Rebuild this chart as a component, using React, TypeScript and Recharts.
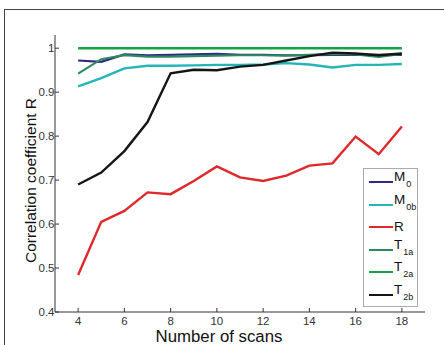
import React from "react";
import {
  LineChart,
  Line,
  XAxis,
  YAxis,
  Legend,
} from "recharts";

const scans = [4, 5, 6, 7, 8, 9, 10, 11, 12, 13, 14, 15, 16, 17, 18];
const m0 = [0.972, 0.969, 0.986, 0.984, 0.985, 0.986, 0.987, 0.985, 0.985, 0.984, 0.984, 0.985, 0.985, 0.985, 0.985];
const m0b = [0.913, 0.932, 0.954, 0.96, 0.96, 0.961, 0.962, 0.962, 0.963, 0.966, 0.963, 0.956, 0.962, 0.962, 0.964];
const rSeries = [0.484, 0.605, 0.63, 0.672, 0.668, 0.698, 0.731, 0.706, 0.698, 0.71, 0.733, 0.738, 0.799, 0.759, 0.822];
const t1a = [0.942, 0.975, 0.984, 0.981, 0.981, 0.982, 0.983, 0.984, 0.984, 0.983, 0.985, 0.987, 0.986, 0.98, 0.987];
const t2a = [1, 1, 1, 1, 1, 1, 1, 1, 1, 1, 1, 1, 1, 1, 1];
const t2b = [0.69, 0.717, 0.766, 0.832, 0.943, 0.951, 0.95, 0.958, 0.962, 0.972, 0.982, 0.99, 0.988, 0.984, 0.988];

const xTicks = [4, 6, 8, 10, 12, 14, 16, 18];
const yTicks = [0.4, 0.5, 0.6, 0.7, 0.8, 0.9, 1];

const series = [
  { key: "m0", base: "M", sub: "0", color: "#2b2b85", width: 2.2, values: m0 },
  { key: "m0b", base: "M", sub: "0b", color: "#22b6b8", width: 2.4, values: m0b },
  { key: "r", base: "R", sub: "", color: "#e0282a", width: 2.4, values: rSeries },
  { key: "t1a", base: "T", sub: "1a", color: "#2e8a5e", width: 2.2, values: t1a },
  { key: "t2a", base: "T", sub: "2a", color: "#12a444", width: 2.6, values: t2a },
  { key: "t2b", base: "T", sub: "2b", color: "#151515", width: 2.4, values: t2b },
];

const data = scans.map((s, i) => {
  const row: any = { scans: s };
  series.forEach((ser) => {
    row[ser.key] = ser.values[i];
  });
  return row;
});

const font = "'Liberation Sans', Arial, sans-serif";
const tickStyle = { fontSize: 11.5, fill: "#333", fontFamily: font };

const LegendBox = () => (
  <div
    style={{
      position: "relative",
      width: 55,
      height: 139,
      border: "1px solid #aaa",
      boxSizing: "border-box",
      background: "#fff",
      fontFamily: font,
      color: "#111",
    }}
  >
    {series.map((ser, i) => {
      const lineY = 13 + i * 22.5;
      return (
        <div key={ser.key}>
          <div
            style={{
              position: "absolute",
              left: 5,
              top: lineY - 1,
              width: 24,
              height: 2,
              background: ser.color,
            }}
          />
          <div
            style={{
              position: "absolute",
              left: 30,
              top: ser.sub ? lineY - 13 : lineY - 8,
              fontSize: 13.5,
              lineHeight: "15px",
              whiteSpace: "nowrap",
            }}
          >
            {ser.base}
            {ser.sub && (
              <span style={{ fontSize: 9, position: "relative", top: 6, marginLeft: 1 }}>
                {ser.sub}
              </span>
            )}
          </div>
        </div>
      );
    })}
  </div>
);

export default function App() {
  return (
    <div
      style={{
        position: "absolute",
        left: 0,
        top: 0,
        width: 444,
        height: 345,
        overflow: "hidden",
        background: "#fff",
      }}
    >
      <div
        style={{
          position: "absolute",
          left: 4,
          top: 9,
          width: 480,
          height: 400,
          border: "1.5px solid #444",
        }}
      />
      <div style={{ position: "absolute", left: 0, top: 0 }}>
        <LineChart
          width={444}
          height={345}
          data={data}
          margin={{ top: 35, right: 19, bottom: 0, left: 5 }}
        >
          <XAxis
            dataKey="scans"
            type="number"
            domain={[3, 19]}
            ticks={xTicks}
            height={33}
            tickSize={-4}
            tickMargin={8.5}
            tick={tickStyle}
            axisLine={{ stroke: "#333" }}
            tickLine={{ stroke: "#333" }}
            label={{
              value: "Number of scans",
              position: "insideBottom",
              offset: 3,
              dx: -21,
              style: { fontSize: 16.8, fill: "#111", fontFamily: font },
            }}
          />
          <XAxis
            xAxisId="top"
            dataKey="scans"
            type="number"
            orientation="top"
            domain={[3, 19]}
            ticks={xTicks}
            height={0}
            tickSize={-4}
            tick={() => <g />}
            axisLine={{ stroke: "#333" }}
            tickLine={{ stroke: "#333" }}
          />
          <YAxis
            type="number"
            domain={[0.4, 1.03]}
            ticks={yTicks}
            width={50}
            tickSize={-4}
            tickMargin={4.5}
            tick={tickStyle}
            tickFormatter={(v: number) => (v === 1 ? "1" : v.toFixed(1))}
            axisLine={{ stroke: "#333" }}
            tickLine={{ stroke: "#333" }}
            label={{
              value: "Correlation coefficient R",
              angle: -90,
              position: "center",
              dy: 7,
              style: { fontSize: 15.5, fill: "#111", fontFamily: font, textAnchor: "middle" },
            }}
          />
          <YAxis
            yAxisId="right"
            orientation="right"
            type="number"
            domain={[0.4, 1.03]}
            ticks={yTicks}
            width={0}
            tickSize={-4}
            tick={() => <g />}
            axisLine={{ stroke: "#333" }}
            tickLine={{ stroke: "#333" }}
          />
          {series.map((ser) => (
            <Line
              key={ser.key}
              dataKey={ser.key}
              stroke={ser.color}
              strokeWidth={ser.width}
              dot={false}
              activeDot={false}
              isAnimationActive={false}
            />
          ))}
          <Legend
            layout="horizontal"
            verticalAlign="middle"
            content={() => <LegendBox />}
            wrapperStyle={{ left: 363, top: 168, width: 55, height: 139 }}
          />
        </LineChart>
      </div>
    </div>
  );
}
